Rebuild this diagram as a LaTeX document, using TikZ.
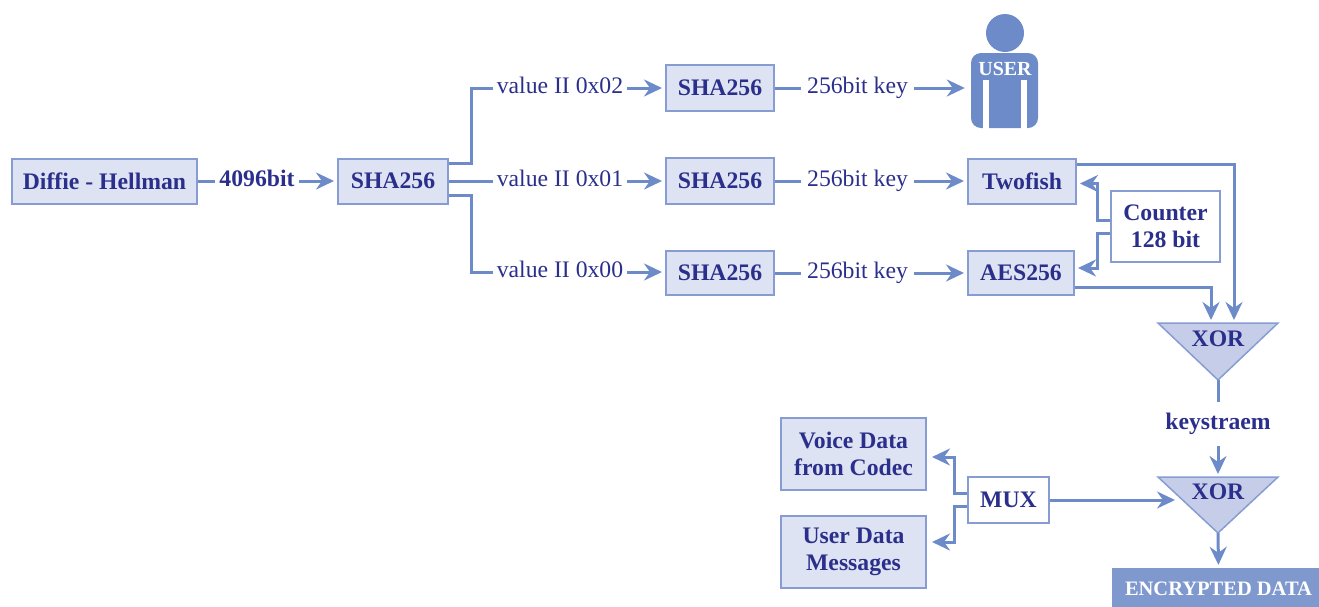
\documentclass[tikz,border=0pt]{standalone}
\usepackage{fontspec}
\setmainfont{Liberation Serif}
\usetikzlibrary{arrows.meta,calc}
\definecolor{txt}{RGB}{43,47,140}
\definecolor{boxfill}{RGB}{222,227,243}
\definecolor{boxline}{RGB}{135,157,210}
\definecolor{lc}{RGB}{108,139,200}
\definecolor{xorfill}{RGB}{197,205,232}
\definecolor{encfill}{RGB}{127,152,206}
\begin{document}
\begin{tikzpicture}[x=1pt,y=-1pt,
  box/.style={draw=boxline, line width=2pt, fill=boxfill, text=txt,
    font=\fontsize{23.7}{26.5}\selectfont\bfseries, inner sep=0pt, align=center},
  wbox/.style={box, fill=white},
  lbl/.style={text=txt, inner sep=4pt, text height=16pt, text depth=5pt,
    font=\fontsize{23.7}{26.5}\selectfont},
  blbl/.style={lbl, font=\fontsize{23.7}{26.5}\selectfont\bfseries},
  conn/.style={draw=lc, line width=3pt},
  arr/.style={conn, -{Stealth[length=18pt,width=17pt,inset=6pt]}, shorten >=3pt},
  xortri/.style={fill=xorfill, draw=boxline, line width=1.5pt, line join=miter}
]
\useasboundingbox (0,0) rectangle (1319,606);

% boxes
\node[box, minimum width=185pt, minimum height=45pt] (dh) at (104.5,181) {Diffie - Hellman};
\node[box, minimum width=110pt, minimum height=45pt] (sha0) at (393,181) {SHA256};
\node[box, minimum width=108pt, minimum height=46pt] (s2) at (720,88) {SHA256};
\node[box, minimum width=108pt, minimum height=46pt] (s1) at (720,181) {SHA256};
\node[box, minimum width=108pt, minimum height=44pt] (s0) at (720,273) {SHA256};
\node[box, minimum width=108pt, minimum height=45pt] (two) at (1022,181) {Twofish};
\node[box, minimum width=106pt, minimum height=44pt] (aes) at (1021,273) {AES256};
\node[wbox, minimum width=109pt, minimum height=71pt] (ctr) at (1165.5,226.5) {Counter\\128 bit};
\node[box, minimum width=145pt, minimum height=72pt] (voice) at (853.5,454) {Voice Data\\from Codec};
\node[box, minimum width=145pt, minimum height=72pt] (userd) at (853.5,552) {User Data\\Messages};
\node[wbox, minimum width=81pt, minimum height=46pt] (mux) at (1008.5,500) {MUX};
\node[fill=encfill, text=white, inner sep=0pt, minimum width=213pt, minimum height=42pt,
  font=\fontsize{20.5}{24}\selectfont\bfseries] (enc) at (1218.5,589) {ENCRYPTED DATA};

% user figure
\node[circle, fill=lc, inner sep=0pt, minimum size=38pt] (head) at (1005,33) {};
\node[fill=lc, rounded corners=10pt, inner sep=0pt, minimum width=67pt, minimum height=75pt] (user) at (1004.5,90.5) {};
\fill[white] (983,80) rectangle (989,129);
\fill[white] (1021,80) rectangle (1027,129);
\node[text=white, inner sep=0pt, font=\fontsize{20}{24}\selectfont\bfseries] (userlbl) at (1005,69) {USER};

% XOR triangles
\coordinate (x1l) at (1158,323); \coordinate (x1r) at (1278,323); \coordinate (x1b) at (1218,380);
\coordinate (x2l) at (1158,477); \coordinate (x2r) at (1278,477); \coordinate (x2b) at (1218,533);
\path[xortri] (x1l) -- (x1r) -- (x1b) -- cycle;
\path[xortri] (x2l) -- (x2r) -- (x2b) -- cycle;
\node[text=txt, inner sep=0pt, font=\fontsize{23.7}{26.5}\selectfont\bfseries] (xor1) at (1218,339) {XOR};
\node[text=txt, inner sep=0pt, font=\fontsize{23.7}{26.5}\selectfont\bfseries] (xor2) at (1218,492) {XOR};
\coordinate (x1in1) at (1211,323);
\coordinate (x1in2) at (1234,323);
\coordinate (x2top) at (1218,477);
\coordinate (x2in) at (1178,500);

% labels
\node[blbl] (l4096) at (257,181) {4096bit};
\node[lbl] (v2) at (560,88) {value II 0x02};
\node[lbl] (v1) at (560,181) {value II 0x01};
\node[lbl] (v0) at (560,272) {value II 0x00};
\node[lbl, inner xsep=6pt] (k2) at (857.5,88) {256bit key};
\node[lbl, inner xsep=6pt] (k1) at (857.5,181) {256bit key};
\node[lbl, inner xsep=6pt] (k0) at (857.5,273) {256bit key};
\node[blbl, inner ysep=11pt] (ks) at (1218,424) {keystraem};

% connectors
\draw[conn] (dh.east) -- (l4096.west);
\draw[arr] (l4096.east) -- (sha0.west);
\draw[conn] ([yshift=18pt]sha0.east) -- ++(22,0) |- (v2.west);
\draw[conn] (sha0.east) -- (v1.west);
\draw[conn] ([yshift=-14pt]sha0.east) -- ++(22,0) |- (v0.west);
\draw[arr] (v2.east) -- (v2.east -| s2.west);
\draw[arr] (v1.east) -- (v1.east -| s1.west);
\draw[arr] (v0.east) -- (v0.east -| s0.west);
\draw[conn] (s2.east) -- (k2.west);
\draw[conn] (s1.east) -- (k1.west);
\draw[conn] (s0.east) -- (k0.west);
\draw[arr, shorten >=6pt] (k2.east) -- (k2.east -| user.west);
\draw[arr] (k1.east) -- (k1.east -| two.west);
\draw[arr] (k0.east) -- (k0.east -| aes.west);
\draw[arr] ([yshift=6.5pt]ctr.west) -- ++(-13,0) |- ([yshift=-2.5pt]two.east);
\draw[arr] ([yshift=-6.5pt]ctr.west) -- ++(-13,0) |- ([yshift=5pt]aes.east);
\draw[arr] ([yshift=16.5pt]two.east) -| (x1in2);
\draw[arr] ([yshift=-14pt]aes.east) -| (x1in1);
\draw[conn] (x1b) -- (ks.north);
\draw[arr] (ks.south) -- (x2top);
\draw[arr] (x2b) -- (enc.north);
\draw[arr] (mux.east) -- (x2in);
\draw[arr, shorten >=5pt] ([yshift=7pt]mux.west) -- ++(-13,0) |- ([yshift=-3pt]voice.east);
\draw[arr, shorten >=5pt] ([yshift=-6pt]mux.west) -- ++(-13,0) |- ([yshift=10pt]userd.east);
\end{tikzpicture}
\end{document}
